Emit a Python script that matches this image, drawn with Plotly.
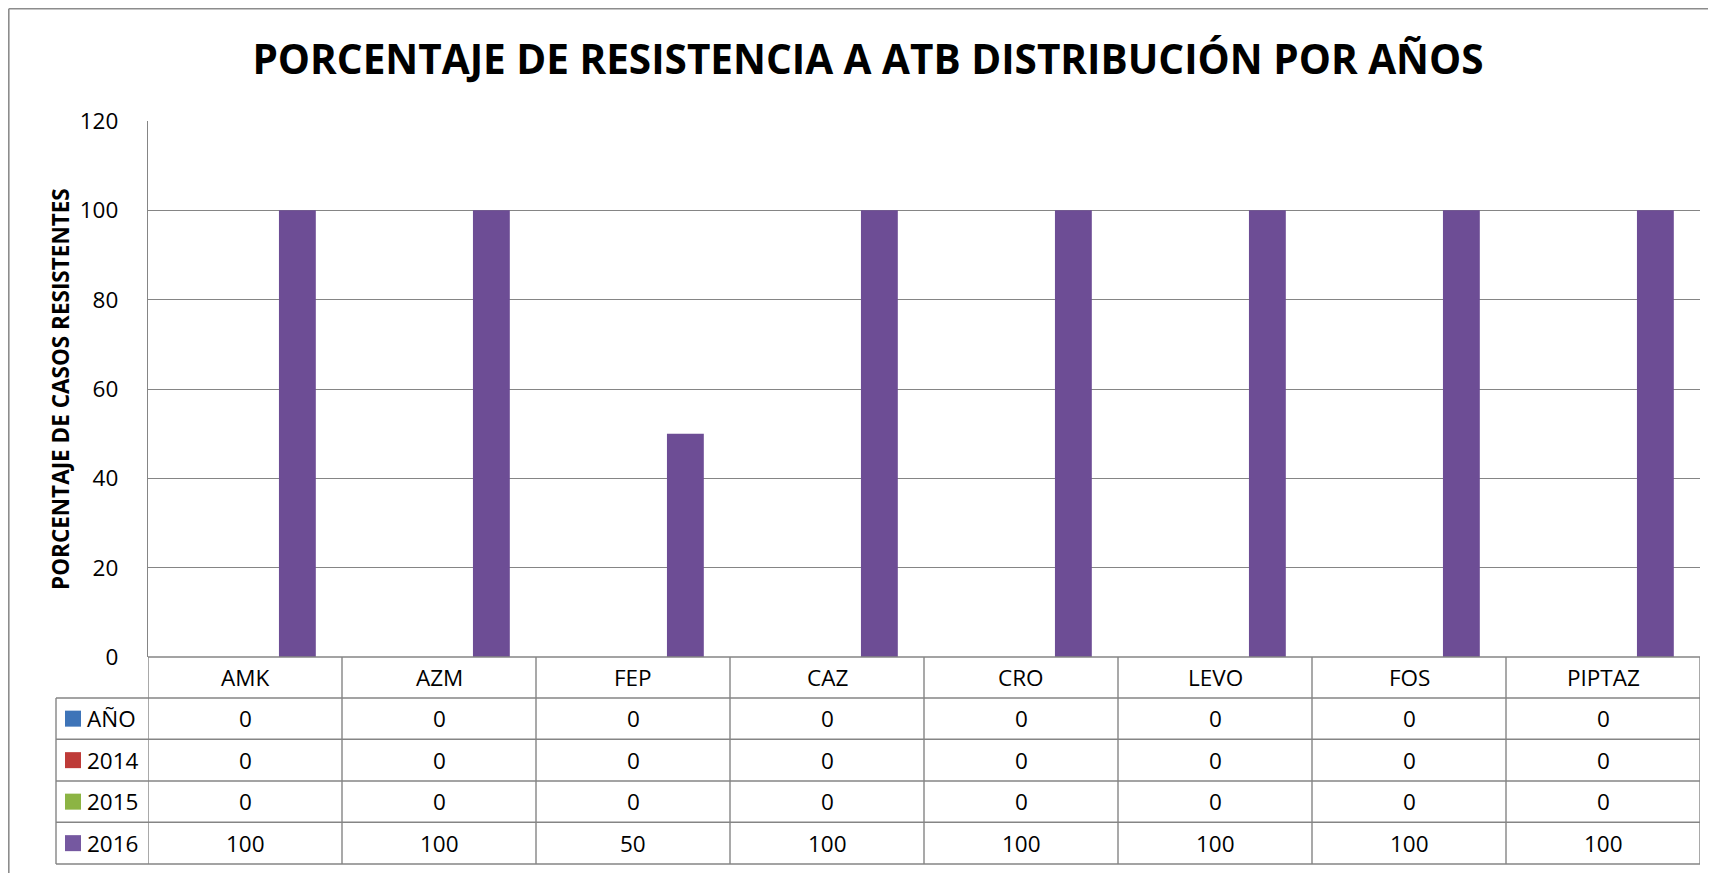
import plotly.graph_objects as go

categories = ["AMK", "AZM", "FEP", "CAZ", "CRO", "LEVO", "FOS", "PIPTAZ"]
series_names = ["AÑO", "2014", "2015", "2016"]
values_ano = [0, 0, 0, 0, 0, 0, 0, 0]
values_2014 = [0, 0, 0, 0, 0, 0, 0, 0]
values_2015 = [0, 0, 0, 0, 0, 0, 0, 0]
values_2016 = [100, 100, 50, 100, 100, 100, 100, 100]
series_values = [values_ano, values_2014, values_2015, values_2016]
series_colors = ["#4F81BD", "#C0504D", "#9BBB59", "#6D4D95"]
legend_colors = ["#3E74B8", "#BE3B38", "#8CB444", "#7558A0"]
bar_offsets = [-0.395, -0.205, -0.015, 0.175]
BAR_W = 0.19
y_ticks = [0, 20, 40, 60, 80, 100, 120]

# page has an 8px body margin; figure pixel = page pixel - 8
OFF = 8
W, H = 1716 - OFF, 873 - OFF
L, R, T, B = 148 - OFF, 1700 - OFF, 121 - OFF, 657 - OFF
FONT = "Open Sans"
GRID = "#858585"

def px_x(px):
    return (px - OFF - L) / (R - L)

def px_y(py):
    return (B - (py - OFF)) / (B - T)

fig = go.Figure()
for name, vals, col, off in zip(series_names, series_values, series_colors, bar_offsets):
    fig.add_trace(go.Bar(x=categories, y=vals, name=name, width=BAR_W, offset=off,
                         marker=dict(color=col, line=dict(width=0))))

fig.update_layout(
    width=W, height=H,
    margin=dict(l=L, r=W - R, t=T, b=H - B),
    paper_bgcolor="white", plot_bgcolor="white",
    barmode="group",
    showlegend=False,
    font=dict(family=FONT, color="black", size=22),
    title=dict(text="<b>PORCENTAJE DE RESISTENCIA A ATB DISTRIBUCIÓN POR AÑOS</b>",
               x=(868 - OFF) / W, xanchor="center", y=1 - (60 - OFF) / H, yanchor="middle",
               font=dict(family=FONT, size=40.5, color="black")),
)
fig.update_xaxes(showticklabels=False, showgrid=False, zeroline=False,
                 showline=False, range=[-0.5, len(categories) - 0.5])
fig.update_yaxes(range=[0, 120], tickvals=y_ticks, showgrid=True, gridcolor=GRID, gridwidth=1.4,
                 zeroline=False, showline=True, linecolor=GRID, linewidth=1.4,
                 ticks="", ticklabelstandoff=24, tickfont=dict(size=22.5, family=FONT))

shapes = []
line = dict(color=GRID, width=1.4)
row_edges = [657, 698, 739.3, 781, 822.3, 864]
shapes.append(dict(type="line", xref="paper", yref="paper", x0=0, x1=1,
                   y0=px_y(row_edges[0]), y1=px_y(row_edges[0]), line=line))
for py in row_edges[1:]:
    shapes.append(dict(type="line", xref="paper", yref="paper", x0=px_x(56), x1=1,
                       y0=px_y(py), y1=px_y(py), line=line))
for i in range(len(categories) + 1):
    shapes.append(dict(type="line", xref="x", yref="paper", x0=i - 0.5, x1=i - 0.5,
                       y0=px_y(row_edges[0]), y1=px_y(row_edges[-1]), line=line))
shapes.append(dict(type="line", xref="paper", yref="paper", x0=px_x(56), x1=px_x(56),
                   y0=px_y(row_edges[1]), y1=px_y(row_edges[-1]), line=line))
border = dict(color="#8C8C8C", width=1.6)
shapes.append(dict(type="line", xref="paper", yref="paper", x0=px_x(8.8), x1=px_x(8.8),
                   y0=px_y(8.8), y1=px_y(890), line=border))
shapes.append(dict(type="line", xref="paper", yref="paper", x0=px_x(8.8), x1=px_x(1730),
                   y0=px_y(8.8), y1=px_y(8.8), line=border))

annotations = []
TF = 22.5
hdr_mid = (row_edges[0] + row_edges[1]) / 2
for c in categories:
    annotations.append(dict(x=c, y=px_y(hdr_mid), xref="x", yref="paper", text=c,
                            showarrow=False, xanchor="center", yanchor="middle",
                            font=dict(size=TF, family=FONT)))
for r, (name, vals, lc) in enumerate(zip(series_names, series_values, legend_colors)):
    top, bot = row_edges[r + 1], row_edges[r + 2]
    mid = (top + bot) / 2
    shapes.append(dict(type="rect", xref="paper", yref="paper",
                       x0=px_x(65), x1=px_x(81), y0=px_y(mid - 8), y1=px_y(mid + 8),
                       fillcolor=lc, line=dict(width=0)))
    annotations.append(dict(x=px_x(85), y=px_y(mid), xref="paper", yref="paper", text=name,
                            showarrow=False, xanchor="left", yanchor="middle",
                            font=dict(size=TF, family=FONT)))
    for c, v in zip(categories, vals):
        annotations.append(dict(x=c, y=px_y(mid), xref="x", yref="paper", text=str(v),
                                showarrow=False, xanchor="center", yanchor="middle",
                                font=dict(size=TF, family=FONT)))
annotations.append(dict(x=px_x(60), y=0.5, xref="paper", yref="paper",
                        text="<b>PORCENTAJE DE CASOS RESISTENTES</b>", textangle=-90,
                        showarrow=False, xanchor="center", yanchor="middle",
                        font=dict(size=22.5, family=FONT)))

fig.update_layout(shapes=shapes, annotations=annotations)
fig.write_html("out.html")
